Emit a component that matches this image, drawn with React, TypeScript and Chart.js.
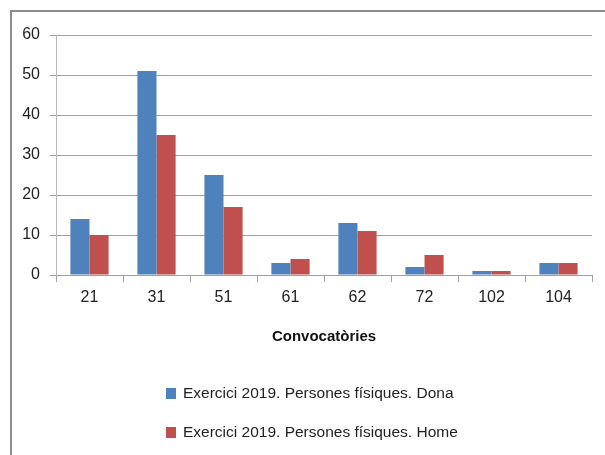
import React, { useEffect, useRef } from "react";
import { Chart, registerables } from "chart.js";

Chart.register(...registerables);

const categories = ["21", "31", "51", "61", "62", "72", "102", "104"];
const donaValues = [14, 51, 25, 3, 13, 2, 1, 3];
const homeValues = [10, 35, 17, 4, 11, 5, 1, 3];
const seriesLabels = [
  "Exercici 2019. Persones físiques. Dona",
  "Exercici 2019. Persones físiques. Home",
];
const seriesColors = ["#4F81BD", "#C0504D"];
const axisTitle = "Convocatòries";

const FONT = "'Liberation Sans', Arial, sans-serif";

export default function App() {
  const ref = useRef<HTMLCanvasElement | null>(null);

  useEffect(() => {
    if (!ref.current) return;
    const chart = new Chart(ref.current, {
      type: "bar",
      data: {
        labels: categories,
        datasets: [
          {
            label: seriesLabels[0],
            data: donaValues,
            backgroundColor: seriesColors[0],
            categoryPercentage: 0.57,
            barPercentage: 1,
          },
          {
            label: seriesLabels[1],
            data: homeValues,
            backgroundColor: seriesColors[1],
            categoryPercentage: 0.57,
            barPercentage: 1,
          },
        ],
      },
      options: {
        animation: false,
        responsive: false,
        maintainAspectRatio: false,
        layout: { padding: { top: 35, right: 13, left: 0, bottom: 0 } },
        plugins: {
          legend: { display: false },
          tooltip: { enabled: false },
        },
        scales: {
          y: {
            min: 0,
            max: 60,
            ticks: {
              stepSize: 10,
              color: "#222",
              padding: 10,
              font: { family: FONT, size: 16 },
            },
            grid: {
              color: "#a0a0a0",
              tickLength: 6,
              lineWidth: 1,
            },
            border: { color: "#b8b8b8" },
            afterFit: (s: any) => {
              s.width = 56;
            },
          },
          x: {
            ticks: {
              color: "#222",
              padding: 6,
              font: { family: FONT, size: 16 },
            },
            grid: {
              drawOnChartArea: false,
              drawTicks: true,
              tickLength: 7,
              color: "#a0a0a0",
              offset: true,
            },
            border: { color: "#a0a0a0" },
            title: {
              display: true,
              text: axisTitle,
              color: "#111",
              font: { family: FONT, size: 15, weight: "bold" },
              padding: { top: 0, bottom: 109 },
            },
            afterFit: (s: any) => {
              s.height = 180;
            },
          },
        },
      },
    });
    return () => chart.destroy();
  }, []);

  return (
    <div
      style={{
        position: "absolute",
        left: 0,
        top: 0,
        width: 605,
        height: 455,
        background: "#fff",
        overflow: "hidden",
      }}
    >
      <div
        style={{
          position: "absolute",
          left: 10,
          top: 10,
          width: 600,
          height: 450,
          borderTop: "2px solid #8c8c8c",
          borderLeft: "2px solid #8c8c8c",
        }}
      />
      <canvas
        ref={ref}
        width={605}
        height={455}
        style={{ position: "absolute", left: 0, top: 0 }}
      />
      {seriesLabels.map((label, i) => (
        <div
          key={label}
          style={{
            position: "absolute",
            left: 166,
            top: i === 0 ? 381 : 420,
            height: 24,
            display: "flex",
            alignItems: "center",
            fontFamily: FONT,
            fontSize: 15.5,
            color: "#222",
            whiteSpace: "nowrap",
          }}
        >
          <span
            style={{
              display: "inline-block",
              width: 10,
              height: 11,
              background: seriesColors[i],
              marginRight: 7,
            }}
          />
          {label}
        </div>
      ))}
    </div>
  );
}
